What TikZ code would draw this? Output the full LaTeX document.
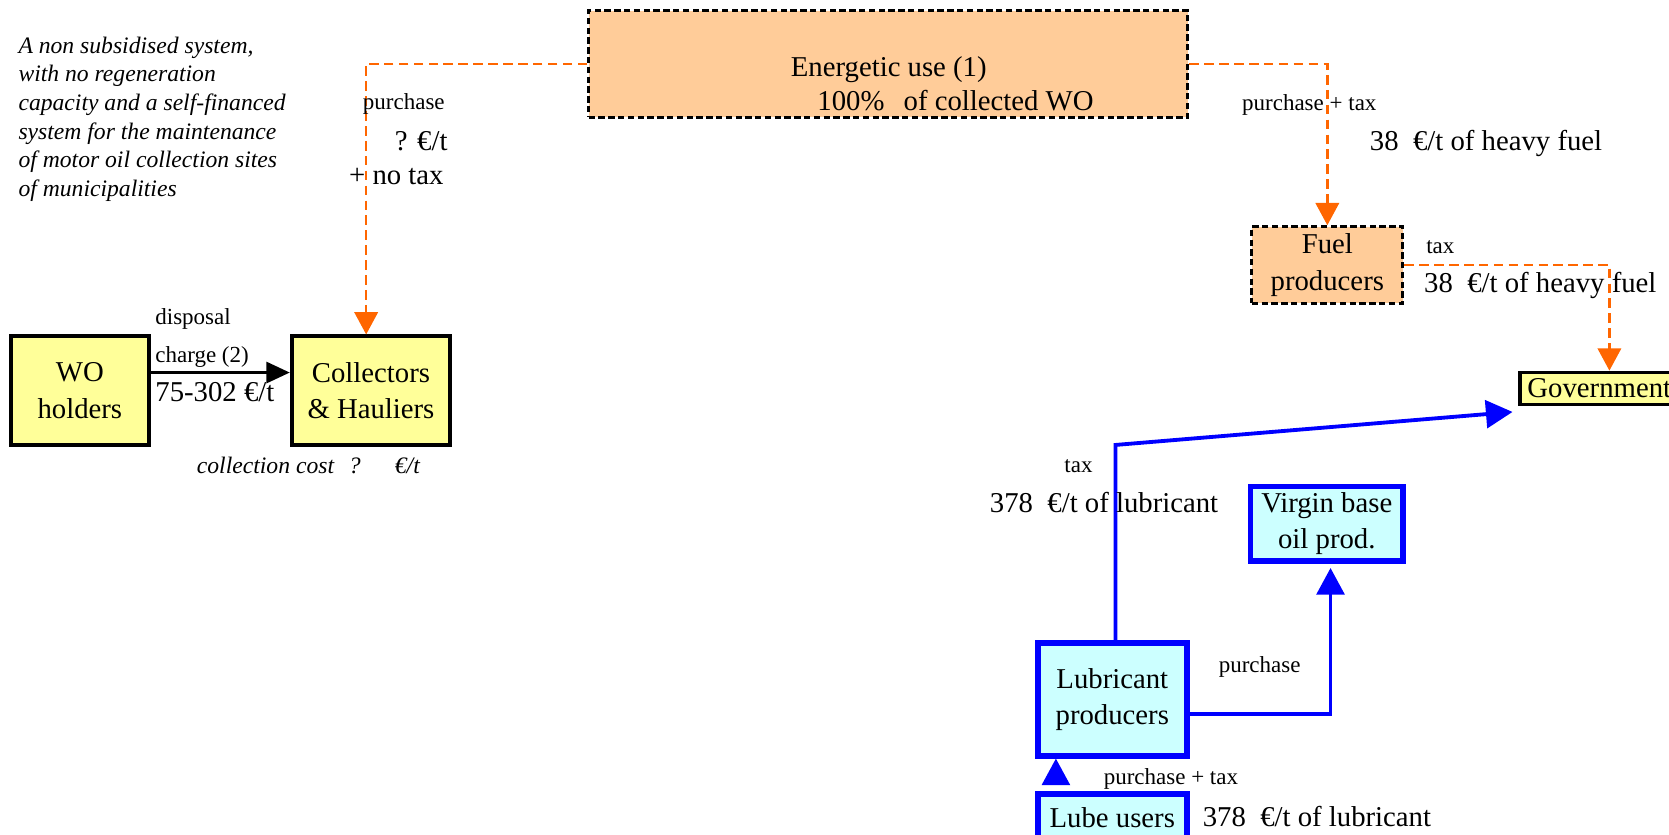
\documentclass[tikz,border=0pt]{standalone}
\usepackage{fontspec}
\setmainfont{Liberation Serif}
\usetikzlibrary{arrows.meta}
\definecolor{holderfill}{HTML}{FFFF99}
\definecolor{energyfill}{HTML}{FFCC99}
\definecolor{lubefill}{HTML}{CCFFFF}
\definecolor{flowblue}{HTML}{0000FF}
\definecolor{floworange}{HTML}{FF6600}
\begin{document}
\begin{tikzpicture}[x=0.5pt,y=-0.5pt,
  big/.style={font=\fontsize{13.5}{17}\selectfont},
  small/.style={font=\fontsize{10.8}{13}\selectfont},
  note/.style={font=\fontsize{11.1}{13.5}\selectfont\itshape},
  lbl/.style={inner sep=0pt,outer sep=0pt,anchor=base west},
  clbl/.style={inner sep=0pt,outer sep=0pt,anchor=base},
  yellowbox/.style={draw=black,line width=1.8pt,fill=holderfill,inner sep=0pt,align=center,big},
  fuelbox/.style={draw=black,line width=1.4pt,dash pattern=on 3pt off 1.6pt,fill=energyfill,inner sep=0pt,align=center,big},
  lubebox/.style={draw=flowblue,line width=2.6pt,fill=lubefill,inner sep=0pt,align=center,big},
  oflow/.style={draw=floworange,line width=1.2pt,dash pattern=on 4.5pt off 2.5pt,-{Triangle[length=10.5pt,width=11pt]}},
  bflow/.style={draw=flowblue,line width=1.8pt,-{Triangle[length=12.5pt,width=13pt]}},
  kflow/.style={draw=black,line width=1.1pt,-{Triangle[length=11pt,width=10pt]}}
]
\useasboundingbox (0,0) rectangle (1568,784);
\clip (0,0) rectangle (1568,784);

% boxes
\node[yellowbox,minimum width=65pt,minimum height=51pt] (wo) at (75,367) {WO\\holders};
\node[yellowbox,minimum width=74.5pt,minimum height=51pt] (coll) at (348.5,367) {Collectors\\\& Hauliers};
\node[fuelbox,minimum width=281.5pt,minimum height=50pt] (energ) at (834.5,60) {};
\node[fuelbox,minimum width=71pt,minimum height=36pt] (fuel) at (1247,249) {Fuel\\producers};
\node[yellowbox,minimum width=74.5pt,minimum height=15pt] (gov) at (1502.5,365) {Government};
\node[lubebox,minimum width=70pt,minimum height=53pt] (lub) at (1045,657) {Lubricant\\producers};
\node[lubebox,minimum width=71.5pt,minimum height=35pt] (virgin) at (1246.5,492) {Virgin base\\oil prod.};
\node[lubebox,minimum width=70pt,minimum height=22pt] (lube) at (1045,768) {Lube users};

% text of the energetic use box
\node[big,clbl] (en1) at (835,72) {Energetic use (1)};
\node[big,lbl] (en2) at (768,104) {100\%\hspace{9pt}of collected WO};

% explanatory note
\node[note,inner sep=0pt,anchor=north west,align=left] (note) at (17,34)
  {A non subsidised system,\\with no regeneration\\capacity and a self-financed\\system for the maintenance\\of motor oil collection sites\\of municipalities};

% connectors
\draw[oflow] (energ.west) -| ([xshift=-2.25pt]coll.north);
\draw[oflow] (energ.east) -| (fuel.north);
\draw[oflow] (fuel.east) -| ([xshift=4.75pt]gov.north);
\draw[kflow] ([yshift=8.5pt]wo.east) -- ([yshift=8.5pt]coll.west);
\coordinate (bend) at (1048,418);
\coordinate (govin) at (1421,387);
\draw[bflow] (bend |- lub.north) -- (bend) -- (govin);
\draw[bflow] ([yshift=-7pt]lub.east) -| ([xshift=1.75pt,yshift=-2pt]virgin.south);
\draw[bflow] ([xshift=-26.5pt,yshift=3pt]lube.north) -- ([xshift=-26.5pt]lub.south);

% labels on the flows
\node[small,lbl] (p1) at (341,103) {purchase};
\node[big,lbl] (p2) at (371,141) {? €/t};
\node[big,lbl] (p3) at (328,173) {+ no tax};
\node[small,lbl] (d1) at (146,305) {disposal};
\node[small,lbl] (d2) at (146,341) {charge (2)};
\node[big,lbl] (d3) at (146,377) {75-302 €/t};
\node[note,lbl] (cc) at (185,445) {collection cost\hspace{7pt}?\hspace{16pt}€/t};
\node[small,lbl] (r1) at (1167,104) {purchase + tax};
\node[big,lbl] (r2) at (1287,141) {38\enspace€/t of heavy fuel};
\node[small,lbl] (f1) at (1340,238) {tax};
\node[big,lbl] (f2) at (1338,275) {38\enspace€/t of heavy fuel};
\node[small,lbl] (t1) at (1000,444) {tax};
\node[big,lbl] (t2) at (930,481) {378\enspace€/t of lubricant};
\node[small,lbl] (v1) at (1145,632) {purchase};
\node[small,lbl] (u1) at (1037,737) {purchase + tax};
\node[big,lbl] (u2) at (1130,776) {378\enspace€/t of lubricant};
\end{tikzpicture}
\end{document}
